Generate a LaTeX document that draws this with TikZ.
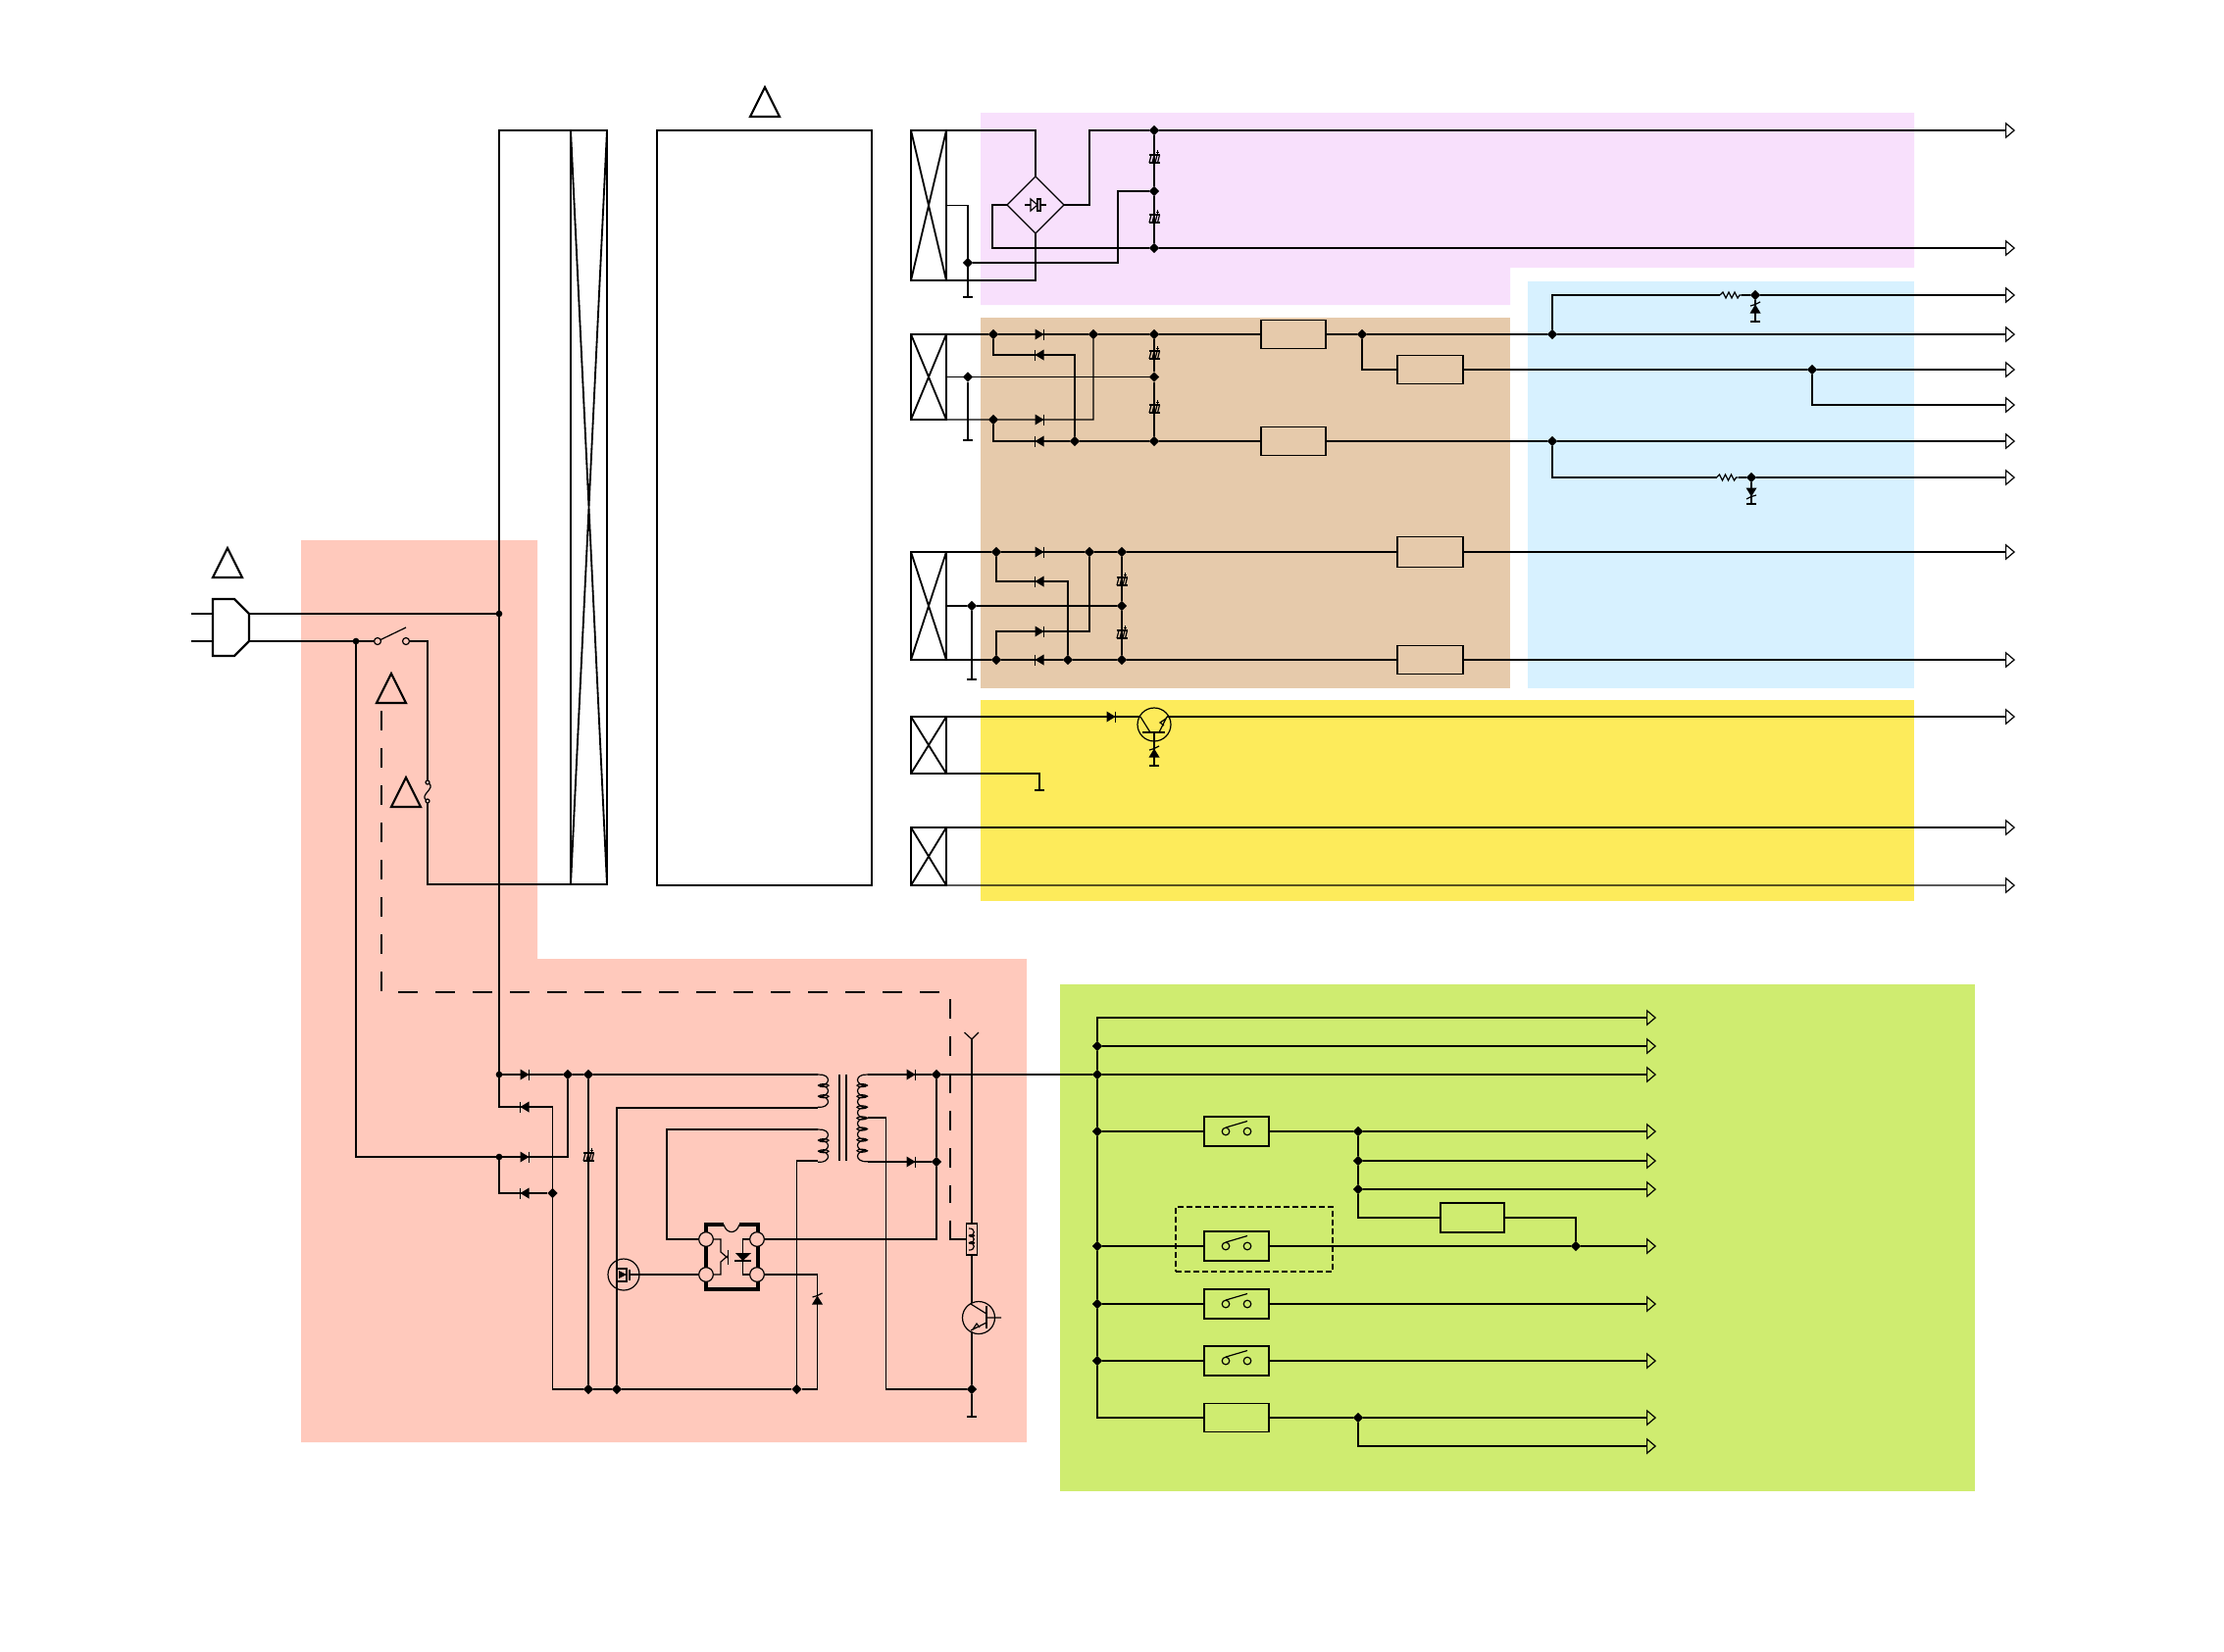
\documentclass[tikz,border=0pt]{standalone}
\usepackage{tikz}
\usetikzlibrary{positioning,arrows.meta,shapes.geometric}
\definecolor{bgpink}{HTML}{F8E0FC}
\definecolor{bgtan}{HTML}{E6CAAB}
\definecolor{bgblue}{HTML}{D7F1FF}
\definecolor{bgyellow}{HTML}{FDEB5B}
\definecolor{bgsalmon}{HTML}{FFC9BC}
\definecolor{bggreen}{HTML}{CFEC70}
\newcommand{\pxu}{.3pt}
\tikzset{
  blk/.style 2 args={draw,minimum width=#1*\pxu,minimum height=#2*\pxu,inner sep=0,outer sep=0},
  conn/.style 2 args={blk={#1}{#2},line width=.75pt},
  jn/.style={diamond,fill=black,inner sep=0,minimum size=3.1pt,outer sep=0},
  jd/.style={circle,fill=black,inner sep=0,minimum size=2pt,outer sep=0},
  pin/.style={circle,draw,fill=bgsalmon,inner sep=0,minimum size=4.4pt,outer sep=0},
  tcirc/.style={circle,draw,inner sep=0,outer sep=0,minimum size=#1*\pxu},
  feed/.style={-{Triangle[open,length=3pt,width=5pt]}},
  gnd/.style={-{Bar[width=3pt,line width=.6pt]}},
  bold/.style={line width=.65pt},
  longdash/.style={line width=.65pt,dash pattern=on 6pt off 5.4pt},
  pics/dio/.style={code={
    \fill (-4.5,-5.5) -- (4.5,0) -- (-4.5,5.5) -- cycle;
    \draw (4.5,-5.5) -- (4.5,5.5);}},
  pics/zen/.style={code={
    \fill (-5.5,4.5) -- (0,-4.5) -- (5.5,4.5) -- cycle;
    \draw (-5,-3) -- (0,-4.5) -- (5,-7);}},
  pics/ecap/.style={code={
    \draw[bold] (-5.5,-4) -- (5.5,-4) (-5.5,4) -- (5.5,4);
    \draw[line width=.36pt] (-5,4) -- (-3,-4) (-2,4) -- (0,-4) (1,4) -- (3,-4) (3.5,4) -- (5.5,-4);
    \draw[line width=.3pt] (1.5,-7) -- (5,-7) (3.2,-9) -- (3.2,-5);}},
  pics/zig/.style={code={
    \draw (-11,0) -- (-8,-3) -- (-5,3) -- (-2,-3) -- (1,3) -- (4,-3) -- (7,3) -- (9,0) -- (11,0);}},
  pics/warn/.style={code={
    \draw[bold] (0,-15) -- (15,15) -- (-15,15) -- cycle;}},
  pics/swt/.style={code={
    \draw (-11,0) circle (3.8) (11,0) circle (3.8);
    \draw (-11,-4) -- (11,-10.5);}},
  pics/bjt/.style={code={
    \draw (-14,-8) -- (-4,8) (5,8) -- (13,-8) (0,8) -- (0,23);
    \draw[bold] (-12,8) -- (11,8);
    \draw (12,-6) -- (6,-2) -- (10,1);}},
  pics/coil/.style={code={
    \foreach \k in {1,...,#1}{
      \pgfmathsetmacro{\ya}{(\k-1)*11.1}
      \pgfmathsetmacro{\yb}{\k*11.1}
      \draw (0,\ya) .. controls (14,\ya-1) and (14,\yb+1) .. (0,\yb);
      \ifnum\k>1 \draw (6,\ya) ellipse [x radius=5,y radius=1.5]; \fi
    }}},
}
\begin{document}
\begin{tikzpicture}[x=\pxu,y=-\pxu,line width=.36pt]
\useasboundingbox (0,0) rectangle (2268,1684);

% coloured areas
\fill[bgsalmon] (307,551) -- (548,551) -- (548,978) -- (1047,978) -- (1047,1471) -- (307,1471) -- cycle;
\fill[bgpink] (1000,115) -- (1952,115) -- (1952,273) -- (1540,273) -- (1540,311) -- (1000,311) -- cycle;
\fill[bgtan] (1000,324) rectangle (1540,702);
\fill[bgblue] (1558,287) rectangle (1952,702);
\fill[bgyellow] (1000,714) rectangle (1952,919);
\fill[bggreen] (1081,1004) rectangle (2014,1521);

% blocks
\node[conn={36}{153}] (cn1) at (947,209.5) {};
\node[conn={36}{87}] (cn2) at (947,384.5) {};
\node[conn={36}{110}] (cn3) at (947,618) {};
\node[conn={36}{58}] (cn4) at (947,760) {};
\node[conn={36}{59}] (cn5) at (947,873.5) {};
\node[conn={37}{769}] (flt) at (600.5,517.5) {};
\node[blk={219}{770},line width=.55pt] (psu) at (779.5,518) {};
\foreach \b in {cn1,cn2,cn3,cn4,cn5,flt}{
  \draw[line width=.55pt] (\b.north west) -- (\b.south east) (\b.north east) -- (\b.south west);
}
\node[diamond,draw,inner sep=0,outer sep=0,minimum size=58*\pxu] (brg) at (1056,209) {};
\node[blk={66}{29}] (l1) at (1319,341) {};
\node[blk={66}{29}] (l2) at (1319,450) {};
\node[blk={67}{29}] (l3) at (1458.5,377) {};
\node[blk={67}{31}] (l4) at (1458.5,563) {};
\node[blk={67}{29}] (l5) at (1458.5,673) {};
\node[blk={66}{29}] (l6) at (1261,1446) {};
\node[blk={65}{30}] (l7) at (1501.5,1242) {};
\foreach \n/\p in {sw1/{1261,1154},sw2/{1261,1271},sw3/{1261,1330},sw4/{1261,1388}}{
  \node[blk={66}{30}] (\n) at (\p) {};
}
\node[blk={160}{66},dash pattern=on 1.7pt off 1pt] (dsw) at (1279,1264) {};
\node[blk={11}{32}] (lr) at (991,1264) {};
\node[tcirc=34] (q1) at (1177,739) {};
\node[tcirc=33] (q2) at (998,1344) {};
\node[tcirc=32] (m1) at (636,1300) {};
\node[inner sep=0,outer sep=0,minimum width=22*\pxu] (r1) at (1765,301) {};
\node[inner sep=0,outer sep=0,minimum width=22*\pxu] (r2) at (1761.5,487) {};

% opto coupler
\draw[line width=1pt] (738,1249) -- (720,1249) -- (720,1315) -- (773,1315) -- (773,1249) -- (754,1249);
\draw (738,1249) .. controls (741,1259) and (751,1259) .. (754,1249);
\foreach \n/\p in {pa/{720,1264},pb/{772,1264},pc/{720,1300},pd/{772,1300}}{
  \node[pin] (\n) at (\p) {};
}
\node[circle,draw,inner sep=0,outer sep=0,minimum size=2.1pt] (sa) at (385,654) {};
\node[circle,draw,inner sep=0,outer sep=0,minimum size=2.1pt] (sb) at (414,654) {};
\node[circle,draw,inner sep=0,outer sep=0,minimum size=1.2pt] (fu1) at (436,798) {};
\node[circle,draw,inner sep=0,outer sep=0,minimum size=1.2pt] (fu2) at (436,817) {};

% junctions
\foreach \n/\p in {j1a/{987,268},j1b/{1177,133},j1c/{1177,195},j1d/{1177,253},
  j2a/{1013,341},j2b/{1115,341},j2c/{1177,341},j2d/{1389,341},j2e/{1583,341},
  j2f/{1096,450},j2g/{1013,428},j2h/{1177,450},j2i/{1583,450},j2j/{987,384.5},j2k/{1177,384.5},
  j2m/{1848,377},j3a/{1790,301},j3b/{1786,487},
  j4a/{1016,563},j4b/{1111,563},j4c/{1144,563},j4d/{1089,673},j4e/{1016,673},j4f/{1144,673},j4g/{991,618},j4h/{1144,618},
  j7c/{579,1096},j7d/{600,1096},j7e/{563.5,1217},j7f/{600,1417},j7g/{629,1417},j7h/{812.5,1417},
  j7i/{955,1096},j7j/{955,1185},j7k/{991,1417},
  j8/{1119,1096},j9a/{1119,1067},j9c/{1119,1154},j9d/{1119,1271},j9e/{1119,1330},j9f/{1119,1388},
  j10a/{1385,1154},j10b/{1385,1184},j10c/{1385,1213},j10d/{1607,1271},j10e/{1385,1446}}{
  \node[jn] (\n) at (\p) {};
}
\foreach \n/\p in {j6a/{509,626},j6b/{363,654},j7a/{509,1096},j7b/{509,1180}}{
  \node[jd] (\n) at (\p) {};
}

% free ends and bends
\foreach \n/\p in {g1/{987,304},g2/{987,450},g3/{1790,329},g4/{991,694},g5/{1060,807},g6/{1786,515},g7/{991,1446},g8/{1177,782},
  k1/{1140,195},k2/{1012,209},k3/{1111,209},k5/{680,1264},k7/{903.5,1140},
  d2a/{1060,341},d2b/{1060,362},d2c/{1060,428},d2d/{1060,450},
  d4a/{1060,563},d4b/{1060,593},d4c/{1060,644},d4d/{1060,673},d5a/{1133,731},
  d7a/{535,1096},d7b/{535,1129},d7c/{535,1180},d7d/{535,1217},d7e/{929,1096},d7f/{929,1185},
  z7/{833.5,1326},c1t/{834,1096},c1b/{834,1130},c2t/{834,1152},c2b/{834,1184},c3t/{885,1096},c3b/{885,1185},c3m/{885,1140},
  qc1/{1163,731},qe1/{1190,731},qb1/{1177,747},qc2/{991,1329},qe2/{991,1358},
  ant/{991,1060},pl1/{254,626},pl2/{254,654},blade/{414,640},da/{389,725},db/{969,1012},dc/{969,1227},dd/{969,1245},
  o1/{2055,133},o2/{2055,253},o3/{2055,301},o4/{2055,341},o5/{2055,377},o6/{2055,413},o7/{2055,450},o8/{2055,487},
  o9/{2055,563},o10/{2055,673},o11/{2055,731},o12/{2055,844},o13/{2055,903},
  p1/{1689,1038},p2/{1689,1067},p3/{1689,1096},p4/{1689,1154},p5/{1689,1184},p6/{1689,1213},
  p7/{1689,1271},p8/{1689,1330},p9/{1689,1388},p10/{1689,1446},p11/{1689,1475}}{
  \coordinate (\n) at (\p);
}

% purple section
\draw (cn1.north east) -| (brg.north);
\draw[gnd] (cn1.east) -| (g1);
\draw (j1a) -| (k1) -- (j1c);
\draw (brg.west) -- (k2) |- (j1d);
\draw (brg.south) |- (cn1.south east);
\draw (brg.east) -- (k3) |- (j1b);
\draw (j1b) -- (j1c) -- (j1d);
\draw[feed] (j1b) -- (o1);
\draw[feed] (j1d) -- (o2);

% brown and blue section
\draw (cn2.north east) -- (j2a) -- (j2b) -- (j2c) -- (l1) -- (j2d) -- (j2e);
\draw[feed] (j2e) -- (o4);
\draw (j2a) |- (d2b) -| (j2f);
\draw (cn2.south east) -- (j2g) -- (d2c) -| (j2b);
\draw (j2g) |- (d2d) -- (j2f) -- (j2h) -- (l2) -- (j2i);
\draw[feed] (j2i) -- (o7);
\draw (cn2.east) -- (j2j) -- (j2k);
\draw[gnd] (j2j) -- (g2);
\draw (j2c) -- (j2k) -- (j2h);
\draw (j2d) |- (l3);
\draw (l3) -- (j2m);
\draw[feed] (j2m) -- (o5);
\draw[feed] (j2m) |- (o6);
\draw (j2e) |- (r1);
\draw (r1) -- (j3a);
\draw[feed] (j3a) -- (o3);
\draw[gnd] (j3a) -- (g3);
\draw (j2i) |- (r2);
\draw (r2) -- (j3b);
\draw[feed] (j3b) -- (o8);
\draw[gnd] (j3b) -- (g6);

\draw (cn3.north east) -- (j4a) -- (j4b) -- (j4c) -- (l4);
\draw[feed] (l4) -- (o9);
\draw (j4a) |- (d4b) -| (j4d);
\draw (cn3.south east) -- (j4e) -- (j4d) -- (j4f) -- (l5);
\draw[feed] (l5) -- (o10);
\draw (j4e) |- (d4c) -| (j4b);
\draw (cn3.east) -- (j4g) -- (j4h);
\draw[gnd] (j4g) -- (g4);
\draw (j4c) -- (j4h) -- (j4f);

% yellow section
\draw (cn4.north east) -- (qc1);
\draw[feed] (qe1) -- (o11);
\draw[gnd] (qb1) -- (g8);
\draw[gnd] (cn4.south east) -| (g5);
\draw[feed] (cn5.north east) -- (o12);
\draw[feed] (cn5.south east) -- (o13);

% mains input
\draw[bold] (217,611) -- (239,611) -- (pl1) -- (pl2) -- (239,669) -- (217,669) -- cycle;
\draw[bold] (195,626) -- (217,626) (195,654) -- (217,654);
\draw (pl1) -- (j6a);
\draw (pl2) -- (j6b) -- (sa);
\draw (sa) -- (blade);
\draw (sb) -| (fu1);
\draw (fu1) .. controls +(8,6) and +(-8,-6) .. (fu2);
\draw (fu2) |- (flt.south west);
\draw (flt.north west) -| (j6a) -- (j7a);
\draw (j6b) |- (j7b);
\draw[longdash] (da) |- (db) -- (dc);
\draw[bold] (dd) |- (lr);

% primary side
\draw (j7a) -- (j7c) -- (j7d) -- (c1t);
\draw (j7a) |- (d7b) -| (j7e);
\draw (j7e) |- (j7f);
\draw (j7f) -- (j7g) -- (j7h);
\draw (j7b) -- (d7c) -| (j7c);
\draw (j7b) |- (d7d) -- (j7e);
\draw (j7d) -- (j7f);
\draw (c1b) -| (j7g);
\draw (c2t) -| (k5) -- (pa);
\draw (c2b) -| (j7h);
\draw (c3t) -- (j7i) -- (j8);
\draw (c3b) -- (j7j);
\draw (j7i) -- (j7j) |- (pb);
\draw (c3m) -- (k7) |- (j7k);
\draw (j7h) -| (z7) |- (pd);
\draw (pc) -- (m1);
\draw (ant) -- (lr);
\draw (lr) -- (qc2);
\draw (qe2) -- (j7k);
\draw[gnd] (j7k) -- (g7);
\draw (pa) -| (735,1277) -- (742,1283);
\draw (pc) -| (735,1287) -- (742,1281);
\draw (742.5,1275) -- (742.5,1290);
\draw (pb) -| (757.5,1278);
\draw (pd) -| (757.5,1286);
\fill (750,1278) -- (766,1278) -- (757.5,1286) -- cycle;
\draw (749,1286) -- (766,1286);
\draw (983.5,1053) -- (ant) -- (998,1053);

% green section
\draw[feed] (j9a) |- (p1);
\draw[feed] (j9a) -- (p2);
\draw[feed] (j8) -- (p3);
\draw (j9a) -- (j8) -- (j9c) -- (j9d) -- (j9e) -- (j9f) |- (l6);
\draw (j9c) -- (sw1) -- (j10a);
\draw[feed] (j10a) -- (p4);
\draw (j10a) -- (j10b) -- (j10c) |- (l7);
\draw[feed] (j10b) -- (p5);
\draw[feed] (j10c) -- (p6);
\draw (l7) -| (j10d);
\draw (j9d) -- (sw2) -- (j10d);
\draw[feed] (j10d) -- (p7);
\draw (j9e) -- (sw3);
\draw[feed] (sw3) -- (p8);
\draw (j9f) -- (sw4);
\draw[feed] (sw4) -- (p9);
\draw (l6) -- (j10e);
\draw[feed] (j10e) -- (p10);
\draw[feed] (j10e) |- (p11);

% symbols
\foreach \n/\r in {d2a/0,d2b/180,d2c/0,d2d/180,d4a/0,d4b/180,d4c/0,d4d/180,d5a/0,d7a/0,d7b/180,d7c/0,d7d/180,d7e/0,d7f/0}{
  \pic[rotate=\r] at (\n) {dio};
}
\foreach \p in {{1177,162},{1177,223},{1177,362},{1177,417},{1144,593},{1144,647},{600,1180}}{
  \pic at (\p) {ecap};
}
\foreach \p/\r in {{1790,315}/0,{1786,502}/180,{1177,768}/0,{833.5,1326}/0}{
  \pic[rotate=\r] at (\p) {zen};
}
\foreach \n in {sw1,sw2,sw3,sw4}{
  \pic at (\n) {swt};
}
\foreach \p in {{232,574},{399,702},{414,808},{780,104}}{
  \pic at (\p) {warn};
}
\pic at (r1) {zig};
\pic at (r2) {zig};
\pic at (q1) {bjt};
\pic[rotate=90,xscale=-1] at (q2) {bjt};
\pic at (c1t) {coil=3};
\pic at (c2t) {coil=3};
\pic[xscale=-1] at (c3t) {coil=8};
\pic[xscale=.5,yscale=.66] at (988,1253) {coil=3};
\draw[bold] (856,1096) -- (856,1184) (863,1096) -- (863,1184);
% bridge symbol
\draw (1045,209) -- (1051,209) (1061,209) -- (1067,209);
\draw (1051,203) -- (1058,209) -- (1051,215) -- cycle;
\draw (1058,203) rectangle (1061,215);
% mosfet symbol
\draw[bold] (639,1293) -- (639,1308);
\draw (642,1295) -- (642,1306) (642,1300) -- (652,1300);
\draw (629,1294) -- (639,1294) (629,1307) -- (639,1307);
\fill (631,1296) -- (639,1300) -- (631,1304) -- cycle;
\end{tikzpicture}
\end{document}
